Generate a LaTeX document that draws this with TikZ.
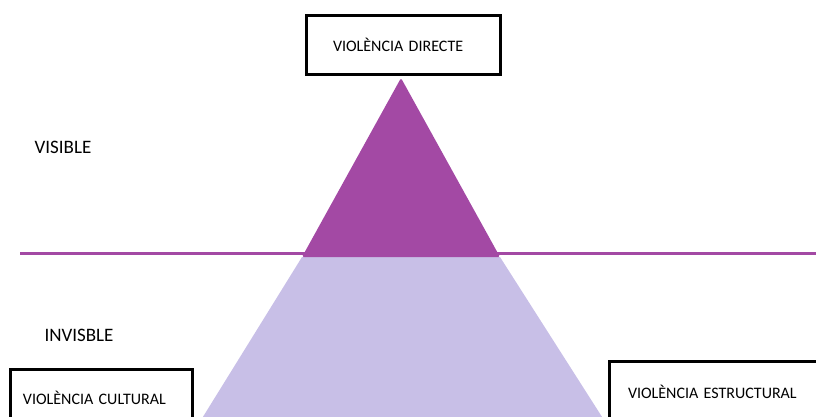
\documentclass[tikz,border=0pt]{standalone}
\usepackage{fontspec}
\setmainfont{Carlito}
\definecolor{darkpurple}{RGB}{163,73,164}
\definecolor{lightpurple}{RGB}{200,191,231}
\begin{document}
\begin{tikzpicture}[x=1pt,y=-1pt,
  vbox/.style={draw=black, line width=3pt, outer sep=0pt, anchor=north west,
    align=left, inner ysep=0pt, font=\fontsize{16}{18}\selectfont},
  zone/.style={font=\fontsize{19}{21}\selectfont, inner sep=0pt}]
\useasboundingbox (0,0) rectangle (816,416);
% lower (invisible) part
\fill[lightpurple] (302,257) -- (500,257) -- (604,420) -- (201,420) -- cycle;
% horizon line
\coordinate (hl) at (20,253);
\coordinate (hr) at (820,253);
\draw[darkpurple, line width=3pt] (hl) -- (hr);
% upper (visible) part
\fill[darkpurple, rounded corners=1.5pt] (401,78) -- (500,257) -- (302,257) -- cycle;
% boxes
\node[vbox, inner xsep=27pt, text width=140pt, minimum height=59pt] (direct) at (306,15) {VIOLÈNCIA DIRECTE};
\node[vbox, inner xsep=13pt, text width=156pt, minimum height=58pt] (cultural) at (10,369) {VIOLÈNCIA CULTURAL};
\node[vbox, inner xsep=19pt, text width=183pt, minimum height=62pt] (estructural) at (609,361) {VIOLÈNCIA ESTRUCTURAL};
% zone labels
\node[zone] (visible) at (63,147) {VISIBLE};
\node[zone] (invisible) at (79,335) {INVISBLE};
\end{tikzpicture}
\end{document}
